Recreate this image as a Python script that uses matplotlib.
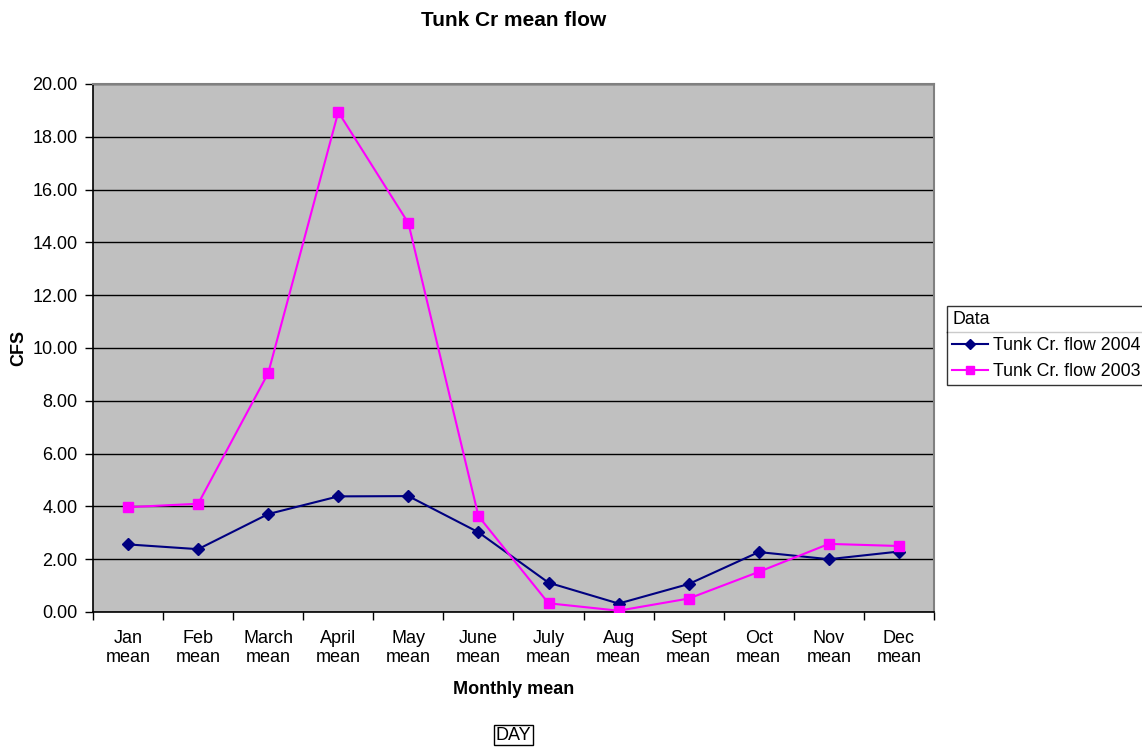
import matplotlib
matplotlib.use("Agg")
import matplotlib.pyplot as plt
from matplotlib.lines import Line2D
import numpy as np

plt.rcParams['font.family'] = ['Liberation Sans', 'DejaVu Sans']

months = ["Jan\nmean", "Feb\nmean", "March\nmean", "April\nmean", "May\nmean", "June\nmean",
          "July\nmean", "Aug\nmean", "Sept\nmean", "Oct\nmean", "Nov\nmean", "Dec\nmean"]
flow_2004 = [2.56, 2.38, 3.71, 4.38, 4.39, 3.02, 1.11, 0.32, 1.06, 2.27, 2.00, 2.29]
flow_2003 = [3.97, 4.10, 9.05, 18.94, 14.73, 3.63, 0.33, 0.05, 0.51, 1.52, 2.58, 2.50]
yticks = [0, 2, 4, 6, 8, 10, 12, 14, 16, 18, 20]

W, H = 1142, 747
fig = plt.figure(figsize=(W / 100, H / 100), dpi=100)
L, R, T, B = 93, 934, 84, 612
ax = fig.add_axes([L / W, 1 - B / H, (R - L) / W, (B - T) / H])
ax.set_facecolor('#C0C0C0')

x = np.arange(len(months))
ax.plot(x, flow_2004, color='#000080', lw=1.5, marker='D', ms=6.5,
        mfc='#000080', mec='#000080', label='Tunk Cr. flow 2004', zorder=3)
ax.plot(x, flow_2003, color='#FF00FF', lw=1.5, marker='s', ms=7.5,
        mfc='#FF00FF', mec='#FF00FF', label='Tunk Cr. flow 2003', zorder=3)

ax.set_xlim(-0.5, len(months) - 0.5)
ax.set_ylim(0, 20)
ax.set_yticks(yticks)
ax.set_yticklabels([f"{v:.2f}" for v in yticks])
ax.yaxis.grid(True, color='black', lw=1)
ax.set_axisbelow(True)

ax.set_xticks(x)
ax.set_xticklabels(months, linespacing=1.15)
ax.set_xticks(np.arange(-0.5, len(months)), minor=True)
ax.tick_params(axis='x', which='major', length=0, pad=13, labelsize=13)
ax.tick_params(axis='x', which='minor', length=6, width=1, direction='out')
ax.tick_params(axis='y', length=6, width=1, direction='out', pad=5, labelsize=13)

for s in ['top', 'right']:
    ax.spines[s].set_color('#808080')
    ax.spines[s].set_linewidth(1.5)
for s in ['left', 'bottom']:
    ax.spines[s].set_color('black')
    ax.spines[s].set_linewidth(1.2)

cx = (L + R) / 2 / W
fig.text(cx, 1 - 20 / H, "Tunk Cr mean flow", ha='center', va='center',
         fontsize=15, fontweight='bold')
fig.text(cx, 1 - 689 / H, "Monthly mean", ha='center', va='center',
         fontsize=13, fontweight='bold')
fig.text(19 / W, 1 - 348 / H, "CFS", ha='center', va='center', rotation=90,
         fontsize=13, fontweight='bold')
fig.text(cx, 1 - 735 / H, "DAY", ha='center', va='center', fontsize=13,
         bbox=dict(boxstyle='square,pad=0.1', fc='white', ec='black', lw=1))

leg = fig.legend(loc='upper left', bbox_to_anchor=(947 / W, 1 - 384 / H, 230 / W, 78 / H),
                 mode='expand',
                 title='Data', alignment='left', fontsize=12.8, title_fontsize=12.8,
                 frameon=True, fancybox=False, edgecolor='black', borderaxespad=0,
                 handlelength=2.0, handletextpad=0.3, borderpad=0.3,
                 labelspacing=0.5, markerscale=0.85)
leg.get_frame().set_linewidth(1)
fig.add_artist(Line2D([947 / W, 1.0], [1 - 332 / H, 1 - 332 / H],
                      transform=fig.transFigure, color='black', lw=1))

fig.savefig("out.png", dpi=100)
